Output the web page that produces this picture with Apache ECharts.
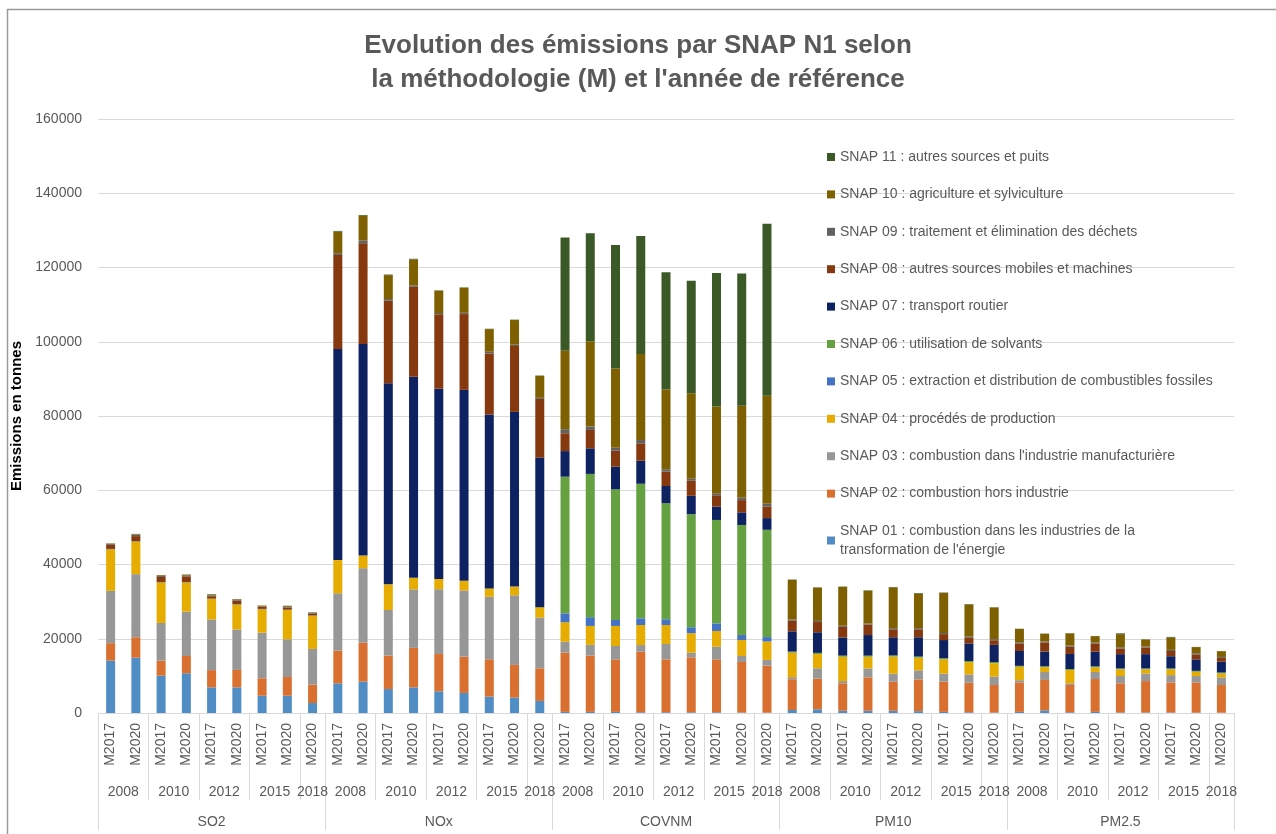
<!DOCTYPE html>
<html>
<head>
<meta charset="utf-8">
<script src="https://cdn.jsdelivr.net/npm/echarts@6/dist/echarts.min.js"></script>
<style>
html,body{margin:0;padding:0;background:#fff;}
#chart{width:1276px;height:834px;}
</style>
</head>
<body>
<div id="chart"></div>
<script>
// ---- Categories ----
const pollutants = ['SO2', 'NOx', 'COVNM', 'PM10', 'PM2.5'];
const years   = ['2008', '2008', '2010', '2010', '2012', '2012', '2015', '2015', '2018'];
const methods = ['M2017', 'M2020', 'M2017', 'M2020', 'M2017', 'M2020', 'M2017', 'M2020', 'M2020'];

// ---- Y axis ----
const yMin = 0, yMax = 160000, yStep = 20000;

// ---- Series names (SNAP 01 .. SNAP 11) ----
const snapNames = [
  "SNAP 01 : combustion dans les industries de la transformation de l'énergie",
  "SNAP 02 : combustion hors industrie",
  "SNAP 03 : combustion dans l'industrie manufacturière",
  "SNAP 04 : procédés de production",
  "SNAP 05 : extraction et distribution de combustibles fossiles",
  "SNAP 06 : utilisation de solvants",
  "SNAP 07 : transport routier",
  "SNAP 08 : autres sources mobiles et machines",
  "SNAP 09 : traitement et élimination des déchets",
  "SNAP 10 : agriculture et sylviculture",
  "SNAP 11 : autres sources et puits"
];

// ---- Values (tonnes), order: SO2 x9, NOx x9, COVNM x9, PM10 x9, PM2.5 x9 ----
const snap01 = [14100,14900,10050,10700,6900,6900,4650,4650,2700,
                8000,8450,6450,6900,5850,5400,4400,4150,3250,
                300,300,300,200,200,200,200,150,100,
                800,1000,600,600,600,500,300,200,150,
                300,700,200,300,150,150,150,100,100];
const snap02 = [4700,5500,4050,4650,4650,4700,4700,5050,4950,
                8800,10500,9000,10650,10050,9800,10050,8800,8800,
                15950,15150,14150,16300,14250,14800,14250,13600,12650,
                8300,8250,7400,9000,7850,8550,8150,7950,7400,
                7950,8200,7350,8850,7850,8450,8100,8150,7450];
const snap03 = [14100,17000,10150,11950,13650,10900,12300,10150,9600,
                15450,20050,12300,15750,17450,17800,16850,18750,13650,
                2950,2900,3600,1800,4150,1250,3400,1600,1550,
                550,2800,600,2400,2150,2450,2150,2250,2250,
                600,2150,450,1900,1950,2050,1950,1700,2050];
const snap04 = [11200,8800,10950,7900,5550,6750,6300,7900,8950,
                8950,3400,6900,3100,2750,2600,2250,2350,2800,
                5250,5100,5400,5400,5100,5250,4250,4300,4950,
                6600,3850,6550,3150,4600,3400,3850,3300,3600,
                3600,1300,3600,1250,1800,1100,1550,1150,1050];
const snap05 = [50,50,50,50,50,50,50,50,50,
                0,0,0,0,0,0,0,0,0,
                2400,2350,1600,1800,1550,1600,2050,1350,1200,
                0,0,0,0,0,0,0,0,0,
                0,0,0,0,0,0,0,0,0];
const snap06 = [0,0,0,0,0,0,0,0,0,
                0,0,0,0,0,0,0,0,0,
                36800,38600,35200,36250,31250,30450,27850,29650,28900,
                300,300,300,300,300,300,300,300,300,
                250,250,250,250,250,250,250,250,250];
const snap07 = [50,50,50,50,50,50,50,50,50,
                56850,57000,54150,54150,51250,51450,46850,47050,40300,
                6900,6900,6100,6200,4650,4950,3600,3400,3150,
                5450,5550,4900,5550,4900,5200,4900,4750,4650,
                4000,3950,4050,3950,3850,3850,3300,3100,2900];
const snap08 = [1100,1350,1350,1500,600,900,550,550,400,
                25300,27100,22250,24250,20050,20400,16450,17750,15800,
                4800,4950,4300,4700,3850,4050,3050,3300,3150,
                2850,2750,2850,2800,2150,2150,1600,1500,1250,
                2050,2450,1950,2250,1550,1800,1400,1350,1050];
const snap09 = [300,400,300,300,200,300,150,200,200,
                500,800,450,400,350,350,450,350,300,
                1100,900,800,900,650,550,550,600,700,
                300,300,300,300,300,300,300,300,300,
                300,300,300,250,300,250,300,300,250];
const snap10 = [100,200,200,200,200,150,200,300,200,
                5800,6650,6450,7000,6000,6750,6100,6650,5900,
                21100,23000,21400,23150,21550,23050,23350,24800,29100,
                10700,8950,10450,8850,11000,9200,10800,8700,8500,
                3600,2050,3300,1700,3550,1900,3300,1650,1550];
const snap11 = [0,0,0,0,150,0,0,0,0,
                200,200,150,150,100,100,100,100,100,
                30500,29100,33200,31800,31500,30250,35950,35650,46350,
                100,100,100,100,100,200,100,100,100,
                50,50,50,50,200,50,200,50,50];

const snapValues = [snap01, snap02, snap03, snap04, snap05, snap06, snap07, snap08, snap09, snap10, snap11];
const snapColors = ['#508dc4', '#d9702f', '#979797', '#e6ac00', '#4472c4', '#65a041',
                    '#0e2262', '#86390e', '#616161', '#7f6000', '#3b5926'];

// ---- Build axis categories ----
const nPerPoll = years.length;
const categories = [];
pollutants.forEach(p => methods.forEach((m, i) => categories.push(p + '|' + years[i] + '|' + m)));

// half-slot axes (2 slots per bar, boundaryGap false) for grouped labels
const nHalf = pollutants.length * nPerPoll * 2 + 1;
const halfKeys = Array.from({length: nHalf}, (_, j) => 'h' + j);
const yearLabels = new Array(nHalf).fill('');
const yearTicks = new Set();
const pollLabels = new Array(nHalf).fill('');
const pollTicks = new Set();
pollutants.forEach((p, pi) => {
  const base = pi * nPerPoll * 2;
  pollTicks.add(base);
  pollTicks.add(base + nPerPoll * 2);
  pollLabels[base + nPerPoll] = p;
  let start = 0;
  while (start < nPerPoll) {
    let end = start;
    while (end + 1 < nPerPoll && years[end + 1] === years[start]) end++;
    const cnt = end - start + 1;
    yearTicks.add(base + 2 * start);
    yearTicks.add(base + 2 * (end + 1));
    yearLabels[base + 2 * start + cnt] = years[start];
    start = end + 1;
  }
});

const txt = '#595959';
const gridCol = '#d9d9d9';
const font = 'Liberation Sans, Arial, sans-serif';

const series = snapNames.map((name, k) => ({
  name: name,
  type: 'bar',
  stack: 'total',
  barWidth: 9,
  xAxisIndex: 0,
  yAxisIndex: 0,
  itemStyle: {color: snapColors[k]},
  data: snapValues[k]
}));

const chart = echarts.init(document.getElementById('chart'), null, {renderer: 'canvas'});
chart.setOption({
  animation: false,
  backgroundColor: '#fff',
  textStyle: {fontFamily: font},
  title: {
    text: "Evolution des émissions par SNAP N1 selon\nla méthodologie (M) et l'année de référence",
    left: 'center',
    top: 24,
    textStyle: {fontFamily: font, fontSize: 26, fontWeight: 'bold', color: txt, lineHeight: 34}
  },
  graphic: [{
    type: 'rect', silent: true, z: -1,
    shape: {x: 7.5, y: 9.5, width: 1400, height: 1000},
    style: {fill: 'none', stroke: '#9a9a9a', lineWidth: 1.5}
  }],
  legend: {
    orient: 'vertical',
    left: 822,
    top: 142.5,
    itemWidth: 8,
    itemHeight: 8,
    itemGap: 18.4,
    icon: 'rect',
    data: snapNames.slice().reverse(),
    formatter: n => n.replace(' de la transformation', ' de la\ntransformation'),
    textStyle: {fontFamily: font, fontSize: 14, color: txt, lineHeight: 19}
  },
  grid: {left: 98, right: 42, top: 119, bottom: 121, containLabel: false, outerBoundsMode: 'none'},
  xAxis: [
    {
      type: 'category',
      data: categories,
      position: 'bottom',
      axisLine: {show: true, lineStyle: {color: gridCol, width: 1}},
      axisTick: {show: false},
      axisLabel: {
        interval: 0, rotate: 90, margin: 10,
        fontFamily: font, fontSize: 14, color: txt,
        formatter: v => v.split('|')[2]
      }
    },
    {
      type: 'category',
      data: halfKeys,
      boundaryGap: false,
      position: 'bottom',
      offset: 0,
      axisLine: {show: false},
      axisTick: {show: true, length: 87, interval: (i) => yearTicks.has(i), lineStyle: {color: gridCol}},
      axisLabel: {
        interval: (i) => yearLabels[i] !== '', margin: 72,
        fontFamily: font, fontSize: 14, color: txt,
        formatter: (v, i) => yearLabels[i]
      },
      splitLine: {show: false}
    },
    {
      type: 'category',
      data: halfKeys,
      boundaryGap: false,
      position: 'bottom',
      offset: 0,
      axisLine: {show: false},
      axisTick: {show: true, length: 117, interval: (i) => pollTicks.has(i), lineStyle: {color: gridCol}},
      axisLabel: {
        interval: (i) => pollLabels[i] !== '', margin: 102,
        fontFamily: font, fontSize: 14, color: txt,
        formatter: (v, i) => pollLabels[i]
      },
      splitLine: {show: false}
    }
  ],
  yAxis: {
    type: 'value',
    min: yMin, max: yMax, interval: yStep,
    name: 'Emissions en tonnes',
    nameLocation: 'middle',
    nameGap: 72,
    nameTextStyle: {fontFamily: font, fontSize: 15, fontWeight: 'bold', color: '#000'},
    axisLine: {show: false},
    axisTick: {show: false},
    axisLabel: {margin: 16, fontFamily: font, fontSize: 14, color: txt, formatter: v => String(v)},
    splitLine: {lineStyle: {color: gridCol, width: 1}}
  },
  series: series
});
</script>
</body>
</html>
